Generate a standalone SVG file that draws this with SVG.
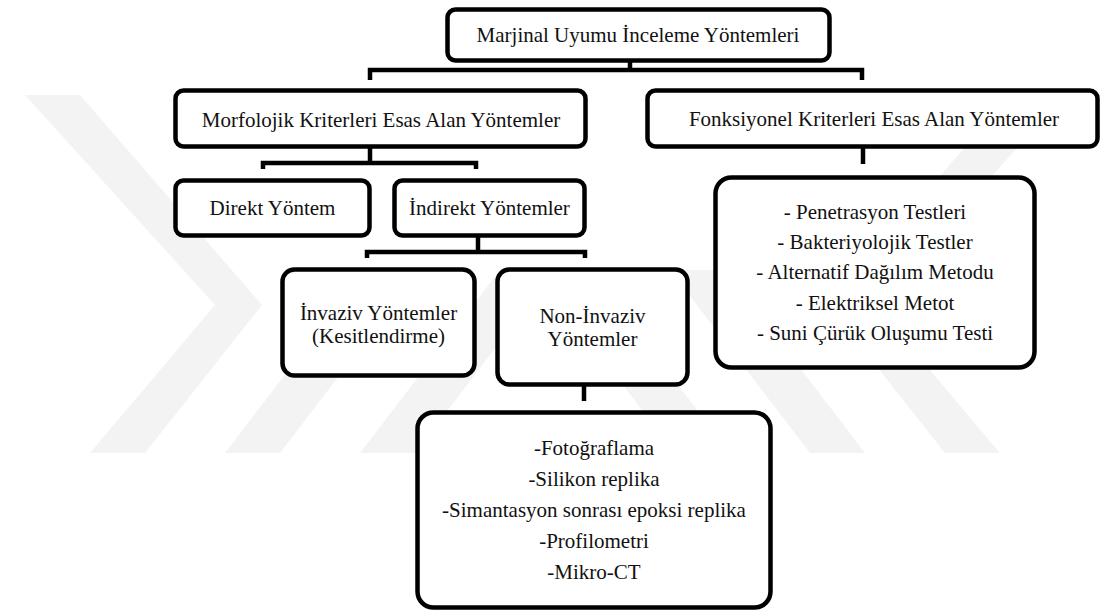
<svg xmlns="http://www.w3.org/2000/svg" width="1104" height="612" viewBox="0 0 1104 612">
<style>
.box{fill:#ffffff;stroke:#000000;stroke-width:4.5}
.t{font-family:"Times New Roman","Liberation Serif",serif;font-size:21px;fill:#111111;text-anchor:middle}
.c{fill:none;stroke:#000000;stroke-width:4.5;stroke-linecap:butt;stroke-linejoin:miter}
.wm{fill:#f3f3f3}
</style>
<rect width="1104" height="612" fill="#ffffff"/>
<g id="watermark">
<polygon class="wm" points="25,95 80,95 262,305 145,453 90,453 215,305"/>
<polygon class="wm" points="225,453 280,453 420,270 365,270"/>
<polygon class="wm" points="360,453 415,453 555,270 500,270"/>
<g transform="translate(1090,0) scale(-1,1)">
<polygon class="wm" points="25,95 80,95 262,305 145,453 90,453 215,305"/>
<polygon class="wm" points="225,453 280,453 420,270 365,270"/>
<polygon class="wm" points="360,453 415,453 555,270 500,270"/>
</g>
</g>
<g id="connectors">
<polyline class="c" points="630,62 630,70"/>
<polyline class="c" points="370,80 370,70 862,70 862,80"/>
<polyline class="c" points="370,148 370,163"/>
<polyline class="c" points="263,169 263,163 476,163 476,169"/>
<polyline class="c" points="478,237 478,252"/>
<polyline class="c" points="367,258 367,252 585,252 585,258"/>
<polyline class="c" points="863,148 863,164"/>
<polyline class="c" points="584,386 584,401"/>
</g>
<g id="n-root">
<rect class="box" x="447.5" y="9.5" width="382" height="51" rx="8"/>
<text class="t" x="638" y="42">Marjinal Uyumu İnceleme Yöntemleri</text>
</g>
<g id="n-morf">
<rect class="box" x="175.5" y="90.5" width="410" height="56" rx="8"/>
<text class="t" x="381" y="127">Morfolojik Kriterleri Esas Alan Yöntemler</text>
</g>
<g id="n-fonk">
<rect class="box" x="647.5" y="90.5" width="450" height="56" rx="8"/>
<text class="t" x="874" y="126">Fonksiyonel Kriterleri Esas Alan Yöntemler</text>
</g>
<g id="n-direkt">
<rect class="box" x="175.5" y="180.5" width="194" height="55" rx="8"/>
<text class="t" x="272.5" y="215">Direkt Yöntem</text>
</g>
<g id="n-indirekt">
<rect class="box" x="394.5" y="180.5" width="190" height="55" rx="8"/>
<text class="t" x="489.5" y="215">İndirekt Yöntemler</text>
</g>
<g id="n-invaziv">
<rect class="box" x="282.5" y="269.5" width="192" height="106" rx="12"/>
<text class="t" x="378.5" y="320">İnvaziv Yöntemler</text>
<text class="t" x="378.5" y="343">(Kesitlendirme)</text>
</g>
<g id="n-noninvaziv">
<rect class="box" x="497.5" y="269.5" width="190" height="115" rx="12"/>
<text class="t" x="592.5" y="323">Non-İnvaziv</text>
<text class="t" x="592.5" y="346">Yöntemler</text>
</g>
<g id="n-fonklist">
<rect class="box" x="715.5" y="177.5" width="319" height="190" rx="16"/>
<text class="t" x="875" y="219">- Penetrasyon Testleri</text>
<text class="t" x="875" y="249">- Bakteriyolojik Testler</text>
<text class="t" x="875" y="279">- Alternatif Dağılım Metodu</text>
<text class="t" x="875" y="310">- Elektriksel Metot</text>
<text class="t" x="875" y="340">- Suni Çürük Oluşumu Testi</text>
</g>
<g id="n-nonlist">
<rect class="box" x="417.5" y="412.5" width="353" height="195" rx="16"/>
<text class="t" x="594" y="455">-Fotoğraflama</text>
<text class="t" x="594" y="486">-Silikon replika</text>
<text class="t" x="594" y="517">-Simantasyon sonrası epoksi replika</text>
<text class="t" x="594" y="548">-Profilometri</text>
<text class="t" x="594" y="579">-Mikro-CT</text>
</g>
</svg>
